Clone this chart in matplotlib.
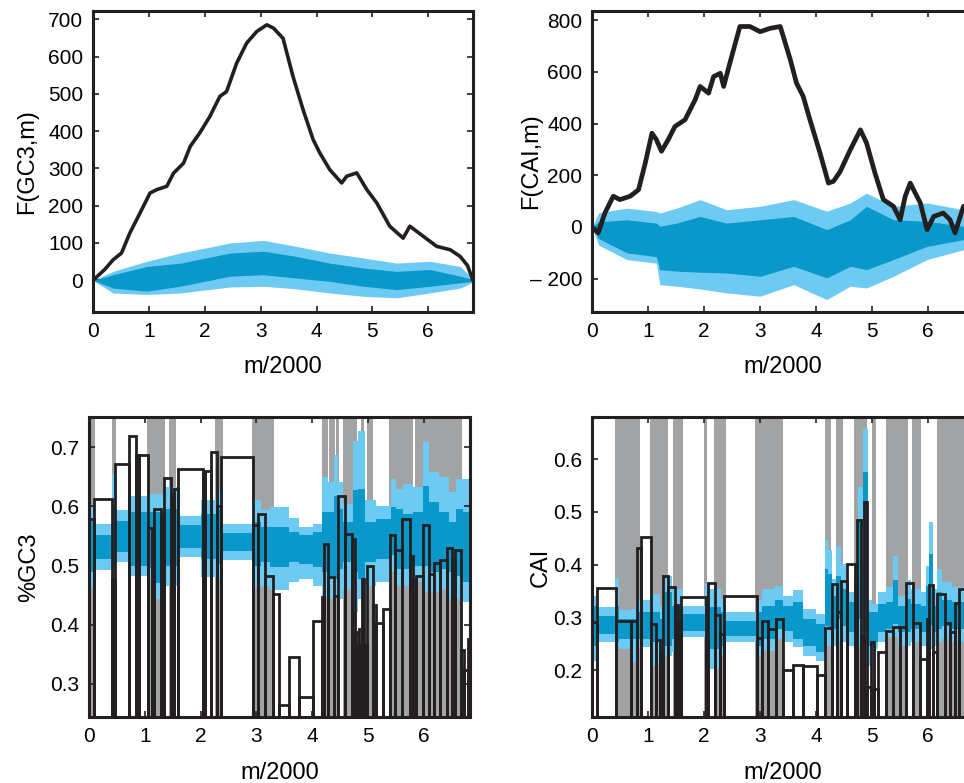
import matplotlib
matplotlib.use('Agg')
import matplotlib.pyplot as plt
import numpy as np

plt.rcParams['font.family'] = ['Liberation Sans', 'DejaVu Sans']

# ---------------- data ----------------
# top-left: cumulative F(GC3,m)
gcF_x = [0, 0.21, 0.36, 0.51, 0.66, 0.84, 1.02, 1.14, 1.32, 1.44, 1.62, 1.74, 1.91, 2.09, 2.27, 2.39,
         2.57, 2.75, 2.93, 3.11, 3.23, 3.40, 3.58, 3.76, 3.94, 4.06, 4.24, 4.45, 4.54, 4.72, 4.90, 5.08,
         5.31, 5.55, 5.67, 5.91, 6.15, 6.39, 6.57, 6.70, 6.80]
gcF_y = [0, 29, 55, 73, 127, 180, 234, 243, 252, 287, 314, 359, 395, 439, 493, 506,
         582, 636, 667, 685, 676, 649, 546, 457, 377, 341, 296, 261, 279, 288, 243, 207,
         145, 113, 145, 118, 91, 82, 64, 40, 0]
gcB_x = [0, 0.36, 0.96, 1.56, 2.45, 3.05, 3.64, 4.24, 4.84, 5.43, 6.03, 6.57, 6.8]
gcB_lu = [0, 24, 51, 73, 100, 107, 91, 73, 60, 46, 51, 37, 5]
gcB_du = [0, 15, 37, 46, 73, 78, 64, 46, 33, 24, 29, 11, 2]
gcB_dl = [0, -21, -29, -16, 11, 15, 6, -3, -16, -25, -16, -7, -2]
gcB_ll = [0, -34, -38, -34, -18, -16, -23, -34, -43, -47, -34, -21, -5]

# top-right: cumulative F(CAI,m)
caiF_x = [0, 0.11, 0.23, 0.38, 0.50, 0.68, 0.83, 0.95, 1.07, 1.15, 1.24, 1.36, 1.48, 1.66, 1.84, 1.93,
          2.08, 2.17, 2.29, 2.35, 2.46, 2.64, 2.82, 3.00, 3.18, 3.36, 3.54, 3.65, 3.77, 3.89, 4.07,
          4.22, 4.31, 4.43, 4.61, 4.79, 4.90, 5.05, 5.20, 5.38, 5.50, 5.59, 5.68, 5.77, 5.86, 5.98,
          6.10, 6.27, 6.39, 6.48, 6.63, 6.80]
caiF_y = [0, -23, 54, 119, 106, 119, 144, 247, 363, 338, 293, 338, 389, 415, 492, 544,
          518, 582, 595, 544, 634, 776, 776, 756, 769, 776, 647, 557, 505, 415, 286,
          170, 177, 215, 299, 376, 325, 209, 106, 80, 28, 119, 170, 131, 93, -10,
          41, 54, 28, -23, 80, 0]
caiB_x = [0, 0.12, 0.62, 1.15, 1.21, 1.51, 1.93, 2.40, 3.0, 3.6, 4.19, 4.61, 4.90, 5.38, 5.98, 6.63, 6.8]
caiB_lu = [0, 55, 73, 60, 54, 73, 106, 67, 80, 106, 61, 93, 131, 80, 93, 67, 50]
caiB_du = [0, 20, 28, 15, 3, 15, 41, 15, 28, 41, -10, 28, 80, 28, 22, 3, 0]
caiB_dl = [0, -45, -100, -115, -165, -171, -175, -178, -191, -152, -197, -152, -165, -126, -75, -49, -40]
caiB_ll = [0, -70, -126, -140, -223, -229, -240, -255, -268, -223, -281, -229, -236, -191, -126, -88, -70]

# bottom-left: %GC3 per window
gc_edges = [0.0, 0.096, 0.41, 0.466, 0.711, 0.842, 0.902, 1.063, 1.123, 1.171, 1.290, 1.338, 1.470, 1.529,
            1.601, 2.037, 2.073, 2.186, 2.288, 2.366, 2.933, 3.023, 3.154, 3.292, 3.399, 3.590, 3.757,
            4.008, 4.170, 4.217, 4.277, 4.397, 4.456, 4.588, 4.713, 4.773, 4.815, 4.845, 4.892, 4.934,
            4.976, 5.084, 5.143, 5.263, 5.394, 5.490, 5.609, 5.753, 5.812, 5.860, 5.992, 6.087, 6.189,
            6.290, 6.410, 6.505, 6.565, 6.667, 6.726, 6.786, 6.828]
gc_values = [0.578, 0.612, 0.478, 0.671, 0.719, 0.686, 0.687, 0.563, 0.551, 0.596, 0.583, 0.648, 0.621,
             0.630, 0.663, 0.656, 0.659, 0.692, 0.601, 0.684, 0.569, 0.587, 0.483, 0.452, 0.265, 0.346,
             0.278, 0.407, 0.447, 0.536, 0.480, 0.449, 0.618, 0.553, 0.544, 0.388, 0.365, 0.393, 0.478,
             0.365, 0.499, 0.434, 0.403, 0.427, 0.551, 0.527, 0.578, 0.516, 0.475, 0.483, 0.568, 0.486,
             0.504, 0.509, 0.529, 0.511, 0.527, 0.357, 0.324, 0.376]
gc_gray = [(0.02, 0.10), (0.41, 0.48), (1.04, 1.36), (1.44, 1.56), (2.26, 2.40), (2.92, 3.32),
           (4.17, 4.29), (4.31, 4.41), (4.43, 4.49), (4.56, 4.80), (4.87, 4.93), (4.98, 5.09),
           (5.37, 5.81), (5.84, 6.68)]
gcS_edges = [0, 0.10, 0.42, 0.48, 0.72, 1.08, 1.20, 1.36, 1.62, 2.01, 2.31, 2.40, 2.92, 3.08, 3.25, 3.59,
             3.77, 4.01, 4.17, 4.29, 4.40, 4.46, 4.55, 4.74, 4.82, 4.94, 5.15, 5.41, 5.50, 5.62, 5.80,
             5.98, 6.10, 6.28, 6.46, 6.58, 6.70, 6.83]
gcS_lu = [0.600, 0.571, 0.655, 0.593, 0.618, 0.621, 0.621, 0.632, 0.583, 0.610, 0.627, 0.571, 0.610,
          0.593, 0.599, 0.580, 0.565, 0.571, 0.649, 0.641, 0.686, 0.641, 0.604, 0.711, 0.728, 0.610,
          0.601, 0.646, 0.630, 0.638, 0.632, 0.708, 0.658, 0.649, 0.624, 0.646, 0.646]
gcS_du = [0.576, 0.552, 0.600, 0.575, 0.590, 0.590, 0.590, 0.596, 0.568, 0.587, 0.596, 0.555, 0.573,
          0.565, 0.565, 0.556, 0.551, 0.556, 0.590, 0.590, 0.618, 0.596, 0.573, 0.627, 0.630, 0.573,
          0.579, 0.599, 0.596, 0.587, 0.590, 0.635, 0.607, 0.590, 0.573, 0.596, 0.590]
gcS_dl = [0.489, 0.511, 0.500, 0.523, 0.500, 0.495, 0.470, 0.500, 0.529, 0.511, 0.503, 0.524, 0.500,
          0.506, 0.497, 0.506, 0.503, 0.497, 0.489, 0.483, 0.478, 0.494, 0.506, 0.489, 0.478, 0.506,
          0.511, 0.517, 0.494, 0.494, 0.500, 0.500, 0.489, 0.494, 0.489, 0.483, 0.472]
gcS_ll = [0.464, 0.492, 0.478, 0.506, 0.483, 0.478, 0.444, 0.466, 0.514, 0.480, 0.478, 0.509, 0.464,
          0.466, 0.458, 0.472, 0.477, 0.466, 0.444, 0.444, 0.444, 0.444, 0.461, 0.421, 0.444, 0.466,
          0.472, 0.489, 0.466, 0.466, 0.472, 0.455, 0.455, 0.461, 0.444, 0.444, 0.438]

# bottom-right: CAI per window
cai_edges = [0.0, 0.095, 0.435, 0.704, 0.811, 0.883, 1.061, 1.151, 1.210, 1.270, 1.348, 1.479, 1.538,
             1.586, 2.027, 2.075, 2.194, 2.284, 2.361, 2.940, 3.029, 3.148, 3.286, 3.405, 3.584, 3.763,
             4.019, 4.162, 4.281, 4.377, 4.449, 4.556, 4.687, 4.735, 4.794, 4.854, 4.914, 4.974, 5.033,
             5.104, 5.254, 5.373, 5.492, 5.612, 5.730, 5.850, 5.987, 6.011, 6.089, 6.166, 6.309, 6.387,
             6.476, 6.554, 6.70]
cai_values = [0.292, 0.356, 0.293, 0.294, 0.431, 0.452, 0.288, 0.257, 0.233, 0.378, 0.358, 0.324, 0.292,
              0.339, 0.256, 0.365, 0.305, 0.269, 0.341, 0.260, 0.293, 0.278, 0.297, 0.200, 0.210, 0.207,
              0.191, 0.279, 0.363, 0.310, 0.368, 0.401, 0.363, 0.484, 0.264, 0.518, 0.167, 0.254, 0.164,
              0.235, 0.275, 0.281, 0.282, 0.365, 0.289, 0.221, 0.297, 0.362, 0.234, 0.344, 0.289, 0.272,
              0.327, 0.353]
cai_gray = [(0.41, 0.85), (1.03, 1.36), (1.45, 1.63), (2.0, 2.06), (2.18, 2.39), (2.91, 3.41),
            (4.16, 4.26), (4.36, 4.48), (4.68, 4.90), (4.99, 5.06), (5.25, 5.64), (5.71, 5.88), (6.15, 6.8)]
caS_edges = [0, 0.10, 0.41, 0.48, 0.70, 0.82, 1.09, 1.21, 1.30, 1.42, 1.63, 2.02, 2.11, 2.31, 2.37, 2.94,
             3.03, 3.26, 3.40, 3.58, 3.76, 4.00, 4.16, 4.22, 4.28, 4.36, 4.45, 4.53, 4.68, 4.74, 4.84,
             4.92, 4.99, 5.11, 5.25, 5.37, 5.46, 5.61, 5.70, 5.88, 5.97, 6.01, 6.09, 6.15, 6.24, 6.42, 6.80]
caS_lu = [0.341, 0.319, 0.375, 0.313, 0.316, 0.332, 0.344, 0.322, 0.379, 0.354, 0.322, 0.363, 0.354,
          0.335, 0.310, 0.332, 0.354, 0.360, 0.341, 0.352, 0.315, 0.307, 0.446, 0.427, 0.373, 0.433,
          0.401, 0.348, 0.360, 0.547, 0.658, 0.332, 0.325, 0.348, 0.357, 0.417, 0.341, 0.370, 0.354,
          0.348, 0.398, 0.480, 0.354, 0.392, 0.367, 0.357]
caS_du = [0.322, 0.303, 0.322, 0.297, 0.297, 0.311, 0.310, 0.297, 0.348, 0.322, 0.307, 0.338, 0.319,
          0.310, 0.294, 0.310, 0.322, 0.332, 0.322, 0.329, 0.297, 0.288, 0.392, 0.382, 0.341, 0.379,
          0.354, 0.329, 0.335, 0.487, 0.575, 0.310, 0.310, 0.325, 0.329, 0.370, 0.322, 0.335, 0.325,
          0.322, 0.360, 0.420, 0.322, 0.348, 0.332, 0.329]
caS_dl = [0.246, 0.269, 0.253, 0.259, 0.259, 0.259, 0.253, 0.208, 0.246, 0.259, 0.275, 0.253, 0.240,
          0.246, 0.265, 0.246, 0.259, 0.278, 0.275, 0.259, 0.246, 0.234, 0.284, 0.278, 0.278, 0.297,
          0.284, 0.272, 0.278, 0.297, 0.272, 0.246, 0.253, 0.272, 0.278, 0.288, 0.272, 0.272, 0.278,
          0.272, 0.284, 0.284, 0.272, 0.278, 0.284, 0.278]
caS_ll = [0.218, 0.253, 0.246, 0.240, 0.215, 0.243, 0.208, 0.177, 0.227, 0.234, 0.262, 0.240, 0.202,
          0.227, 0.253, 0.227, 0.237, 0.259, 0.253, 0.243, 0.227, 0.218, 0.246, 0.246, 0.246, 0.253,
          0.253, 0.246, 0.240, 0.246, 0.221, 0.208, 0.240, 0.253, 0.262, 0.262, 0.246, 0.246, 0.253,
          0.246, 0.246, 0.240, 0.246, 0.253, 0.259, 0.253]

# ---------------- style ----------------
LIGHT = '#6DCBF3'
DARK = '#0A98CB'
GRAY = '#A2A3A5'
INK = '#231F20'
TICK_FS = 15
LAB_FS = 17

fig = plt.figure(figsize=(9.64, 7.83), dpi=100)
W, H = 964.0, 783.0


def make_ax(left, right, top, bottom):
    return fig.add_axes([left / W, 1 - bottom / H, (right - left) / W, (bottom - top) / H])


def style(ax, xlim, ylim, yticks, ylabel, ylab_x, xlab_y, yfmt=None):
    ax.set_xlim(*xlim)
    ax.set_ylim(*ylim)
    ax.set_xticks([0, 1, 2, 3, 4, 5, 6])
    ax.set_yticks(yticks)
    if yfmt:
        ax.set_yticklabels([yfmt(v) for v in yticks])
    ax.tick_params(direction='in', top=True, right=True, length=4, width=1.2,
                   labelsize=TICK_FS, pad=7, color=INK)
    for s in ax.spines.values():
        s.set_linewidth(2.2)
        s.set_color(INK)
        s.set_zorder(10)
    ax.set_xlabel('m/2000', fontsize=LAB_FS)
    ax.set_ylabel(ylabel, fontsize=LAB_FS)
    ax.xaxis.set_label_coords(0.5, xlab_y)
    ax.yaxis.set_label_coords(ylab_x, 0.5)


def step_fill(ax, edges, lo, hi, color, z):
    e = np.asarray(edges)
    ax.fill_between(e, np.r_[lo, lo[-1]], np.r_[hi, hi[-1]], step='post',
                    color=color, lw=0, zorder=z)


def bars(ax, edges, values, base):
    e = np.asarray(edges)
    v = np.asarray(values)
    ax.bar(e[:-1], v - base, width=np.diff(e), bottom=base, align='edge',
           fill=False, edgecolor=INK, linewidth=2.0, zorder=5)


# top-left
ax1 = make_ax(93, 473, 11, 312)
ax1.fill_between(gcB_x, gcB_ll, gcB_lu, color=LIGHT, lw=0, zorder=1)
ax1.fill_between(gcB_x, gcB_dl, gcB_du, color=DARK, lw=0, zorder=2)
ax1.plot(gcF_x, gcF_y, color=INK, lw=2.6, zorder=4)
style(ax1, (0, 6.8), (-85, 722), range(0, 701, 100), 'F(GC3,m)', -0.145, -0.145)

# top-right
ax2 = make_ax(592, 973, 11, 312)
ax2.fill_between(caiB_x, caiB_ll, caiB_lu, color=LIGHT, lw=0, zorder=1)
ax2.fill_between(caiB_x, caiB_dl, caiB_du, color=DARK, lw=0, zorder=2)
ax2.plot(caiF_x, caiF_y, color=INK, lw=3.4, zorder=4)
style(ax2, (0, 6.8), (-329, 836), [-200, 0, 200, 400, 600, 800], 'F(CAI,m)', -0.13, -0.145,
      yfmt=lambda v: ('\u2013 %d' % -v) if v < 0 else '%d' % v)

# bottom-left
ax3 = make_ax(89, 470, 417, 717)
for a, b in gc_gray:
    ax3.axvspan(a, b, color=GRAY, lw=0, zorder=0)
step_fill(ax3, gcS_edges, gcS_ll, gcS_lu, LIGHT, 1)
step_fill(ax3, gcS_edges, gcS_dl, gcS_du, DARK, 2)
bars(ax3, gc_edges, gc_values, 0.244)
style(ax3, (0, 6.83), (0.244, 0.751), [0.3, 0.4, 0.5, 0.6, 0.7], '%GC3', -0.129, -0.15,
      yfmt=lambda v: '%.1f' % v)

# bottom-right
ax4 = make_ax(592, 973, 417, 717)
for a, b in cai_gray:
    ax4.axvspan(a, b, color=GRAY, lw=0, zorder=0)
step_fill(ax4, caS_edges, caS_ll, caS_lu, LIGHT, 1)
step_fill(ax4, caS_edges, caS_dl, caS_du, DARK, 2)
bars(ax4, cai_edges, cai_values, 0.111)
style(ax4, (0, 6.8), (0.111, 0.68), [0.2, 0.3, 0.4, 0.5, 0.6], 'CAI', -0.105, -0.15,
      yfmt=lambda v: '%.1f' % v)

fig.savefig('out.png', dpi=100)
